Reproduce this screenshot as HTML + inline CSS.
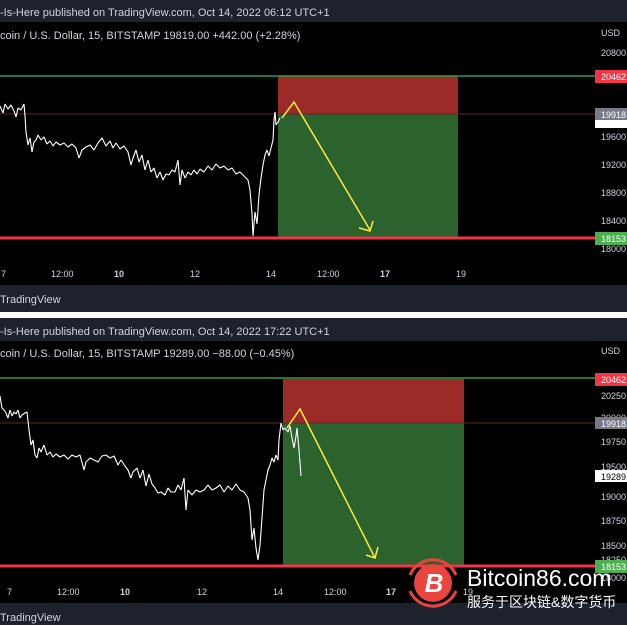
<!DOCTYPE html>
<html><head><meta charset="utf-8"><style>
body{margin:0;width:627px;height:625px;overflow:hidden;background:#000;font-family:"Liberation Sans","Noto Sans CJK SC",sans-serif;}
svg{display:block}
</style></head><body>
<svg width="627" height="625" xmlns="http://www.w3.org/2000/svg" font-family="Liberation Sans, Noto Sans CJK SC, sans-serif">
<rect width="627" height="625" fill="#000"/>
<!-- TOP PANEL -->
<rect x="0" y="0" width="627" height="22" fill="#1e222d"/>
<text x="0" y="16" font-size="11" fill="#d1d4dc">-Is-Here published on TradingView.com, Oct 14, 2022 06:12 UTC+1</text>
<text x="0" y="39" font-size="11" fill="#d1d4dc">coin / U.S. Dollar, 15, BITSTAMP  19819.00  +442.00 (+2.28%)</text>
<text x="601" y="36" font-size="9" fill="#d1d4dc">USD</text>
<rect x="278" y="76" width="180" height="38" fill="#9c2a26"/>
<rect x="278" y="114" width="180" height="124" fill="#2b622d"/>
<line x1="0" y1="76" x2="595" y2="76" stroke="#3d9a3d" stroke-width="1.5"/>
<line x1="0" y1="114" x2="595" y2="114" stroke="#5a2a2a" stroke-width="1"/>
<line x1="0" y1="238" x2="595" y2="238" stroke="#f23645" stroke-width="3"/>
<polyline fill="none" stroke="#fff" stroke-width="1.1" stroke-linejoin="bevel" points="0,106 3,113 5,104 8,109 11,105 14,111 16,117 18,108 21,110 24,104 25,116 26,132 28,145 30,138 32,152 34,142 36,140 38,135 41,140 44,137 47,144 50,141 53,146 56,142 60,145 64,143 68,147 72,144 76,148 79,158 82,150 86,147 90,145 94,150 98,143 102,138 106,146 110,141 113,148 116,143 120,149 124,146 128,152 131,165 133,158 136,150 139,162 142,155 145,170 148,160 151,172 154,168 157,178 160,172 163,180 166,174 169,175 172,170 175,172 178,160 180,185 182,170 185,178 188,172 191,175 194,170 197,174 200,169 204,172 208,166 212,170 216,164 220,168 224,166 228,170 232,168 236,174 240,172 244,176 248,180 250,190 252,214 253,236 255,212 257,224 259,195 261,178 263,165 265,155 267,150 269,156 271,148 273,140 274,120 275,112 276,125 278,122 280,118"/>
<polyline fill="none" stroke="#ffeb3b" stroke-width="1.5" points="282,118 294,102 370,230"/>
<polyline fill="none" stroke="#ffeb3b" stroke-width="1.5" points="359,228 370,231 373,221"/>
<g font-size="9" fill="#d1d4dc">
<text x="601" y="56">20800.</text><text x="601" y="140">19600.</text><text x="601" y="168">19200.</text><text x="601" y="196">18800.</text><text x="601" y="224">18400.</text><text x="601" y="252">18000.</text>
</g>
<rect x="595" y="70" width="32" height="13" fill="#f23645"/><text x="601" y="80" font-size="9" fill="#fff">20462.</text>
<rect x="595" y="108" width="32" height="12" fill="#787b86"/><text x="601" y="118" font-size="9" fill="#fff">19918.</text>
<rect x="595" y="120" width="32" height="8" fill="#fff"/>
<rect x="595" y="232" width="32" height="13" fill="#4caf50"/><text x="601" y="242" font-size="9" fill="#fff">18153.</text>
<g font-size="9" fill="#d1d4dc">
<text x="1" y="277">7</text><text x="51" y="277">12:00</text><text x="114" y="277" font-weight="bold">10</text><text x="190" y="277">12</text><text x="266" y="277">14</text><text x="317" y="277">12:00</text><text x="380" y="277" font-weight="bold">17</text><text x="456" y="277">19</text>
</g>
<rect x="0" y="285" width="627" height="27" fill="#1e222d"/>
<text x="0" y="303" font-size="11" fill="#d1d4dc">TradingView</text>
<rect x="0" y="312" width="627" height="6" fill="#fff"/>
<!-- BOTTOM PANEL -->
<rect x="0" y="318" width="627" height="23" fill="#1e222d"/>
<text x="0" y="335" font-size="11" fill="#d1d4dc">-Is-Here published on TradingView.com, Oct 14, 2022 17:22 UTC+1</text>
<text x="0" y="357" font-size="11" fill="#d1d4dc">coin / U.S. Dollar, 15, BITSTAMP  19289.00  −88.00 (−0.45%)</text>
<text x="601" y="354" font-size="9" fill="#d1d4dc">USD</text>
<rect x="283" y="379" width="181" height="44" fill="#9c2a26"/>
<rect x="283" y="423" width="181" height="143" fill="#2b622d"/>
<line x1="0" y1="378" x2="595" y2="378" stroke="#3d9a3d" stroke-width="1.5"/>
<line x1="0" y1="423" x2="595" y2="423" stroke="#5a2a2a" stroke-width="1"/>
<line x1="0" y1="566" x2="595" y2="566" stroke="#f23645" stroke-width="3"/>
<polyline fill="none" stroke="#fff" stroke-width="1.1" stroke-linejoin="bevel" points="0,396 2,408 4,410 6,413 8,418 10,410 12,416 14,412 16,414 18,410 20,418 22,415 25,413 27,412 29,430 31,445 33,440 35,455 37,458 39,448 41,452 44,445 47,455 50,452 53,457 56,454 60,457 64,455 68,459 72,455 76,457 80,455 84,470 86,462 90,458 94,460 98,462 102,456 106,455 110,458 114,456 118,465 121,460 125,466 128,470 131,478 133,472 137,468 140,478 143,470 146,486 149,474 152,484 155,488 158,493 161,492 165,495 168,488 171,492 175,492 178,485 181,490 184,478 186,510 188,490 192,495 196,490 200,492 204,490 208,485 212,490 216,488 220,485 224,492 228,486 232,490 236,484 240,490 244,492 248,498 250,510 252,540 254,528 256,548 258,560 260,545 262,518 264,490 266,480 268,470 270,465 272,458 274,462 276,455 278,460 279,440 281,423 283,430 285,428 288,432 290,426 292,438 294,448 296,436 297,428 299,450 301,476"/>
<g font-size="9" fill="#d1d4dc">
<text x="601" y="399">20250.</text><text x="601" y="421">20000.</text><text x="601" y="445">19750.</text><text x="601" y="470">19500.</text><text x="601" y="500">19000.</text><text x="601" y="524">18750.</text><text x="601" y="549">18500.</text><text x="601" y="563">18250.</text><text x="601" y="581">18000.</text>
</g>
<polyline fill="none" stroke="#ffeb3b" stroke-width="1.5" points="287,428 300,409 375,558"/>
<polyline fill="none" stroke="#ffeb3b" stroke-width="1.5" points="366,555 375,558 378,547"/>
<rect x="595" y="373" width="32" height="13" fill="#f23645"/><text x="601" y="383" font-size="9" fill="#fff">20462.</text>
<rect x="595" y="417" width="32" height="12" fill="#787b86"/><text x="601" y="427" font-size="9" fill="#fff">19918.</text>
<rect x="595" y="470" width="32" height="12" fill="#fff"/><text x="601" y="480" font-size="9" fill="#000">19289.</text>
<rect x="595" y="560" width="32" height="13" fill="#4caf50"/><text x="601" y="570" font-size="9" fill="#fff">18153.</text>
<g font-size="9" fill="#d1d4dc">
<text x="7" y="595">7</text><text x="57" y="595">12:00</text><text x="120" y="595" font-weight="bold">10</text><text x="197" y="595">12</text><text x="273" y="595">14</text><text x="324" y="595">12:00</text><text x="386" y="595" font-weight="bold">17</text><text x="463" y="595">19</text>
</g>
<rect x="0" y="603" width="627" height="22" fill="#1e222d"/>
<text x="0" y="621" font-size="11" fill="#d1d4dc">TradingView</text>
<!-- watermark -->
<circle cx="433" cy="583" r="19" fill="#e8453c"/>
<path d="M410,575 A25,25 0 0 1 456,575" fill="none" stroke="#e8453c" stroke-width="3"/>
<path d="M410,591 A25,25 0 0 0 456,591" fill="none" stroke="#e8453c" stroke-width="3"/>
<text x="434" y="592" font-size="26" font-weight="bold" fill="#fff" text-anchor="middle" font-style="italic">B</text>
<text x="467" y="586" font-size="23" fill="#fff">Bitcoin86.com</text>
<text x="467" y="607" font-size="14" fill="#fff">服务于区块链&amp;数字货币</text>
</svg>
</body></html>
